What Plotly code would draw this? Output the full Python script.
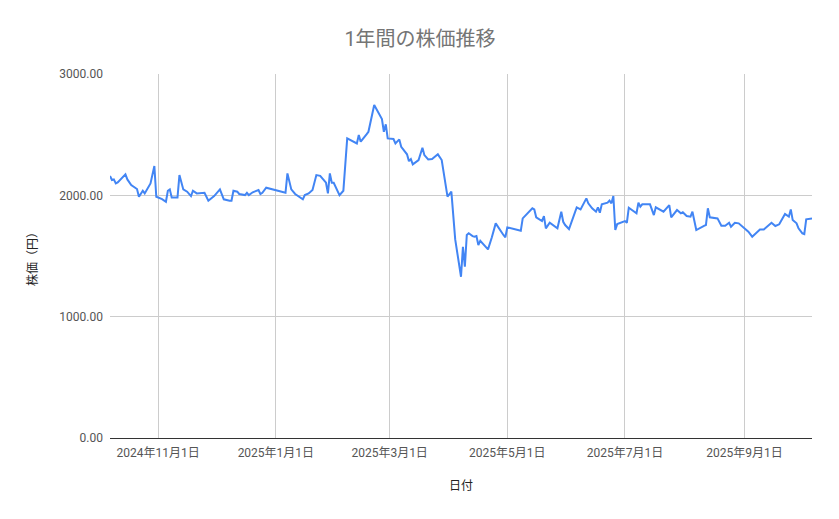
import plotly.graph_objects as go

TITLE = "1年間の株価推移"
X_TITLE = "日付"
Y_TITLE = "株価（円）"

dates = [
    "2024-10-07", "2024-10-08", "2024-10-09", "2024-10-10", "2024-10-11", "2024-10-15", "2024-10-16",
    "2024-10-17", "2024-10-18", "2024-10-21", "2024-10-22", "2024-10-24", "2024-10-25", "2024-10-28",
    "2024-10-30", "2024-10-31", "2024-11-03", "2024-11-05", "2024-11-06", "2024-11-07", "2024-11-08",
    "2024-11-11", "2024-11-12", "2024-11-14", "2024-11-16", "2024-11-18", "2024-11-19", "2024-11-21",
    "2024-11-25", "2024-11-27", "2024-11-28", "2024-11-30", "2024-12-03", "2024-12-05", "2024-12-08",
    "2024-12-09", "2024-12-10", "2024-12-12", "2024-12-13", "2024-12-16", "2024-12-17", "2024-12-18",
    "2024-12-20", "2024-12-23", "2024-12-24", "2024-12-25", "2024-12-27",
    "2025-01-06", "2025-01-07", "2025-01-09", "2025-01-11", "2025-01-15", "2025-01-16", "2025-01-18",
    "2025-01-20", "2025-01-22", "2025-01-24", "2025-01-26", "2025-01-27", "2025-01-28", "2025-01-29",
    "2025-01-30", "2025-01-31", "2025-02-03", "2025-02-05", "2025-02-07", "2025-02-12", "2025-02-13",
    "2025-02-14", "2025-02-17", "2025-02-18", "2025-02-21", "2025-02-25", "2025-02-26", "2025-02-27",
    "2025-02-28", "2025-03-03", "2025-03-04", "2025-03-06", "2025-03-07", "2025-03-09", "2025-03-10",
    "2025-03-11", "2025-03-12", "2025-03-13", "2025-03-16", "2025-03-18", "2025-03-19", "2025-03-21",
    "2025-03-23", "2025-03-26", "2025-03-28", "2025-03-31", "2025-04-02", "2025-04-04", "2025-04-07",
    "2025-04-08", "2025-04-09", "2025-04-10", "2025-04-11", "2025-04-13", "2025-04-14", "2025-04-15",
    "2025-04-16", "2025-04-17", "2025-04-21", "2025-04-23", "2025-04-25", "2025-04-29", "2025-04-30",
    "2025-05-01", "2025-05-08", "2025-05-09", "2025-05-12", "2025-05-14", "2025-05-15", "2025-05-16",
    "2025-05-19", "2025-05-20", "2025-05-21", "2025-05-23", "2025-05-27", "2025-05-29", "2025-05-30",
    "2025-05-31", "2025-06-02", "2025-06-06", "2025-06-08", "2025-06-11", "2025-06-12", "2025-06-14",
    "2025-06-16", "2025-06-17", "2025-06-18", "2025-06-19", "2025-06-22", "2025-06-23", "2025-06-24",
    "2025-06-25", "2025-06-26", "2025-06-27", "2025-07-01", "2025-07-02", "2025-07-03", "2025-07-07",
    "2025-07-08", "2025-07-09", "2025-07-10", "2025-07-14", "2025-07-16", "2025-07-17", "2025-07-21",
    "2025-07-24", "2025-07-25", "2025-07-27", "2025-07-28", "2025-07-30", "2025-07-31", "2025-08-02",
    "2025-08-04", "2025-08-05", "2025-08-07", "2025-08-11", "2025-08-12", "2025-08-13", "2025-08-14",
    "2025-08-18", "2025-08-20", "2025-08-22", "2025-08-24", "2025-08-25", "2025-08-27", "2025-08-29",
    "2025-09-02", "2025-09-03", "2025-09-05", "2025-09-09", "2025-09-11", "2025-09-13", "2025-09-15",
    "2025-09-17", "2025-09-19", "2025-09-22", "2025-09-24", "2025-09-25", "2025-09-26", "2025-09-28",
    "2025-09-29", "2025-10-01", "2025-10-02", "2025-10-03", "2025-10-06",
]

prices = [
    2159, 2126, 2131, 2098, 2107, 2173, 2131,
    2104, 2085, 2052, 1988, 2038, 2016, 2098,
    2241, 1988, 1969, 1947, 2038, 2049, 1983,
    1983, 2167, 2049, 2030, 1994, 2038, 2016,
    2021, 1956, 1967, 1994, 2049, 1967, 1956,
    1956, 2038, 2030, 2011, 2002, 2021, 2002,
    2025, 2044, 2011, 2021, 2063,
    2021, 2181, 2049, 2011, 1967, 2002, 2016,
    2044, 2167, 2161, 2126, 2104, 2016, 2181,
    2104, 2104, 2002, 2038, 2469, 2428, 2497,
    2442, 2502, 2524, 2744, 2629, 2524, 2585,
    2469, 2464, 2428, 2461, 2400, 2354, 2338,
    2282, 2299, 2255, 2291, 2392, 2332, 2296,
    2299, 2338, 2291, 1990, 2030, 1637, 1329,
    1576, 1412, 1673, 1687, 1664, 1659, 1664,
    1590, 1626, 1555, 1654, 1769, 1673, 1654,
    1736, 1708, 1810, 1857, 1893, 1884, 1819,
    1788, 1829, 1728, 1774, 1728, 1865, 1782,
    1755, 1722, 1901, 1884, 1975, 1934, 1893,
    1865, 1901, 1857, 1926, 1939, 1956, 1934,
    1994, 1714, 1763, 1788, 1774, 1898, 1852,
    1939, 1907, 1926, 1926, 1837, 1901, 1865,
    1920, 1819, 1865, 1879, 1852, 1860, 1829,
    1824, 1865, 1714, 1749, 1755, 1893, 1819,
    1810, 1749, 1749, 1774, 1741, 1774, 1769,
    1719, 1700, 1659, 1719, 1719, 1747, 1774,
    1747, 1761, 1846, 1824, 1884, 1796, 1769,
    1728, 1687, 1681, 1802, 1810,
]

x_tick_vals = ["2024-11-01", "2025-01-01", "2025-03-01", "2025-05-01", "2025-07-01", "2025-09-01"]
x_tick_text = ["2024年11月1日", "2025年1月1日", "2025年3月1日", "2025年5月1日", "2025年7月1日", "2025年9月1日"]
y_tick_vals = [0, 1000, 2000, 3000]

FONT = "Roboto, 'Noto Sans CJK JP', sans-serif"

fig = go.Figure()
fig.add_trace(go.Scatter(
    x=dates, y=prices, mode="lines",
    line=dict(color="#4285F4", width=2),
    showlegend=False, hoverinfo="x+y",
))

fig.update_layout(
    width=839, height=519,
    paper_bgcolor="white", plot_bgcolor="white",
    margin=dict(l=102, r=35, t=66, b=89),
    font=dict(family=FONT, color="#444444", size=12),
    title=dict(text=TITLE, x=(420 - 8) / 839, xanchor="center", y=1 - 31 / 519, yanchor="middle",
               font=dict(family=FONT, size=20, color="#757575")),
    xaxis=dict(
        type="date",
        tickmode="array", tickvals=x_tick_vals, ticktext=x_tick_text,
        showgrid=True, gridcolor="#cccccc", gridwidth=1,
        showline=False, zeroline=False, ticks="",
        ticklabelstandoff=6,
        tickfont=dict(family=FONT, size=12, color="#555555"),
        title=dict(text=X_TITLE, font=dict(family=FONT, size=12, color="#222222"), standoff=22),
        automargin=False,
    ),
    yaxis=dict(
        range=[0, 3000],
        tickmode="array", tickvals=y_tick_vals, tickformat=".2f",
        showgrid=True, gridcolor="#cccccc", gridwidth=1,
        zeroline=True, zerolinecolor="#333333", zerolinewidth=1,
        showline=False, ticks="",
        ticklabelstandoff=6,
        tickfont=dict(family=FONT, size=12, color="#555555"),
        title=dict(text=Y_TITLE, font=dict(family=FONT, size=12, color="#222222"), standoff=19),
        automargin=False,
    ),
)

fig.write_html("out.html")
